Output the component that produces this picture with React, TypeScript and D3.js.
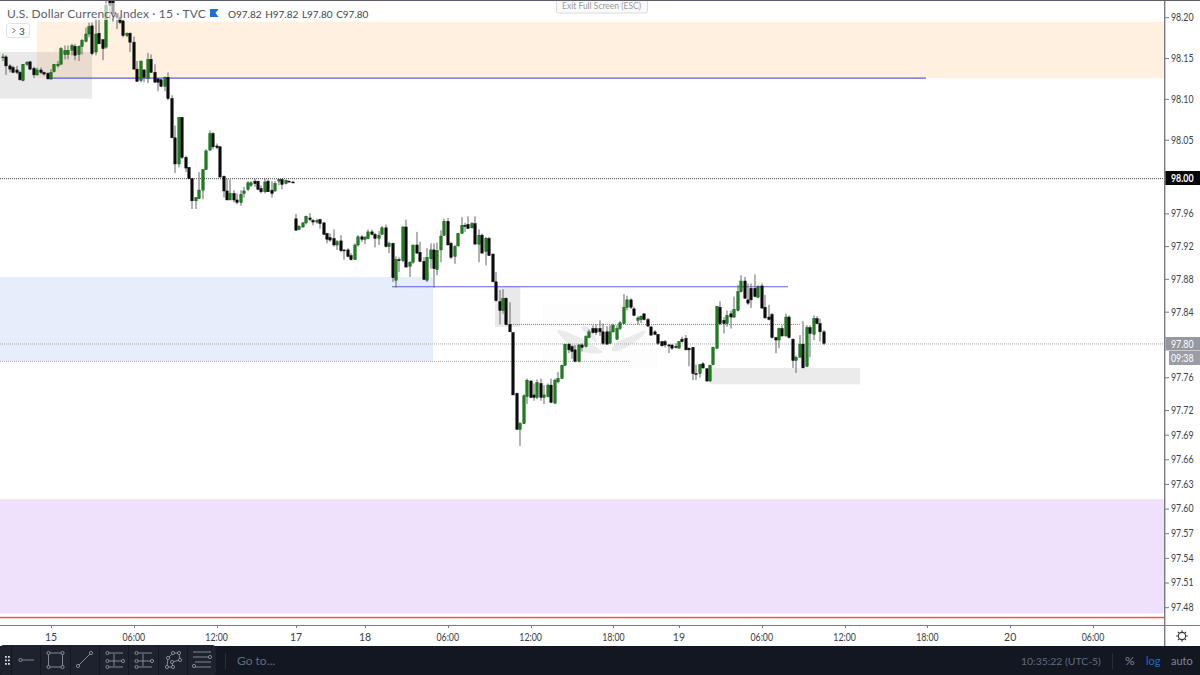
import React from "react";
import * as d3 from "d3";

const opens = [98.151,98.152,98.141,98.139,98.136,98.133,98.123,98.143,98.146,98.138,98.130,98.136,98.133,98.132,98.125,98.134,98.141,98.143,98.155,98.155,98.160,98.165,98.155,98.165,98.171,98.180,98.190,98.158,98.181,98.173,98.164,98.230,98.225,98.205,98.200,98.196,98.178,98.181,98.170,98.137,98.123,98.136,98.126,98.149,98.133,98.125,98.124,98.116,98.127,98.101,98.053,98.021,98.078,98.029,98.017,98.003,97.976,97.979,97.989,98.014,98.038,98.058,98.043,98.042,98.006,97.988,97.977,97.985,97.977,97.974,97.985,97.990,97.995,98.000,98.000,97.991,97.987,98.000,97.989,97.988,98.000,98.002,97.997,98.000,97.999,
97.954,97.941,97.944,97.949,97.955,97.952,97.950,97.953,97.949,97.936,97.931,97.930,97.922,97.927,97.916,97.916,97.909,97.904,97.922,97.932,97.929,97.930,97.938,97.935,97.930,97.935,97.943,97.920,97.924,97.879,97.904,97.903,97.944,97.896,97.901,97.922,97.913,97.902,97.879,97.905,97.916,97.892,97.916,97.934,97.951,97.924,97.908,97.921,97.936,97.946,97.947,97.943,97.948,97.923,97.934,97.914,97.930,97.911,97.877,97.853,97.842,97.857,97.825,97.815,97.741,97.697,97.704,
97.737,97.756,97.739,97.736,97.753,97.736,97.737,97.751,97.729,97.755,97.759,97.775,97.801,97.798,97.794,97.780,97.800,97.798,97.809,97.820,97.820,97.820,97.816,97.816,97.802,97.816,97.807,97.820,97.826,97.846,97.855,97.844,97.830,97.831,97.838,97.831,97.822,97.816,97.813,97.804,97.804,97.800,97.800,97.798,97.796,97.807,97.808,97.796,97.797,97.765,97.765,97.777,97.771,97.756,97.776,97.796,97.846,97.830,97.826,97.838,97.834,97.842,97.865,97.878,97.855,97.869,97.869,97.858,97.872,97.846,97.834,97.837,97.809,97.806,97.820,97.811,97.834,97.807,97.781,97.785,97.801,97.774,97.821,97.813,97.832,97.826,97.816];
const highs = [98.156,98.154,98.143,98.141,98.141,98.135,98.143,98.147,98.147,98.140,98.139,98.139,98.134,98.133,98.137,98.143,98.147,98.164,98.166,98.166,98.168,98.168,98.166,98.174,98.188,98.194,98.194,98.198,98.198,98.174,98.225,98.235,98.232,98.205,98.203,98.198,98.182,98.182,98.177,98.147,98.147,98.137,98.157,98.155,98.143,98.126,98.125,98.128,98.133,98.105,98.068,98.078,98.078,98.031,98.017,98.003,97.980,98.011,98.015,98.039,98.062,98.060,98.046,98.043,98.007,98.003,98.002,97.989,97.985,97.989,97.993,98.000,98.000,98.003,98.000,97.995,98.003,98.002,98.000,98.000,98.003,98.003,98.002,98.001,98.000,
97.960,97.946,97.950,97.958,97.961,97.954,97.954,97.954,97.950,97.937,97.936,97.941,97.928,97.934,97.916,97.918,97.912,97.924,97.934,97.934,97.933,97.941,97.941,97.937,97.939,97.945,97.947,97.926,97.925,97.908,97.907,97.945,97.953,97.902,97.922,97.938,97.926,97.907,97.918,97.924,97.924,97.925,97.940,97.954,97.955,97.926,97.922,97.937,97.956,97.949,97.957,97.950,97.957,97.941,97.936,97.932,97.932,97.911,97.889,97.867,97.868,97.858,97.852,97.815,97.742,97.706,97.740,
97.759,97.757,97.753,97.758,97.759,97.751,97.753,97.759,97.759,97.767,97.776,97.801,97.802,97.800,97.800,97.801,97.802,97.812,97.819,97.824,97.825,97.830,97.826,97.823,97.824,97.826,97.824,97.829,97.862,97.860,97.857,97.846,97.835,97.836,97.838,97.833,97.823,97.818,97.813,97.805,97.806,97.801,97.800,97.802,97.805,97.810,97.812,97.797,97.797,97.776,97.777,97.779,97.771,97.776,97.798,97.847,97.853,97.834,97.842,97.842,97.859,97.873,97.885,97.883,97.875,97.875,97.886,97.873,97.875,97.861,97.849,97.839,97.810,97.821,97.824,97.838,97.836,97.808,97.787,97.812,97.829,97.824,97.824,97.836,97.835,97.832,97.818];
const lows = [98.147,98.130,98.133,98.132,98.131,98.123,98.122,98.141,98.136,98.126,98.129,98.131,98.129,98.125,98.124,98.133,98.139,98.143,98.149,98.149,98.154,98.148,98.147,98.155,98.170,98.176,98.154,98.154,98.168,98.148,98.162,98.198,98.195,98.186,98.192,98.176,98.176,98.158,98.137,98.122,98.121,98.121,98.120,98.133,98.121,98.110,98.115,98.110,98.099,98.053,98.010,98.017,98.027,98.011,98.003,97.966,97.966,97.978,97.978,98.014,98.037,98.039,98.039,98.005,97.980,97.977,97.977,97.974,97.972,97.970,97.980,97.988,97.993,97.993,97.989,97.985,97.985,97.987,97.980,97.987,97.995,97.990,97.996,97.999,97.998,
97.940,97.940,97.943,97.947,97.951,97.946,97.948,97.942,97.934,97.924,97.926,97.920,97.916,97.913,97.904,97.907,97.903,97.904,97.920,97.926,97.923,97.929,97.934,97.919,97.922,97.934,97.919,97.912,97.877,97.870,97.889,97.901,97.895,97.883,97.899,97.912,97.901,97.879,97.877,97.893,97.870,97.885,97.901,97.933,97.922,97.905,97.899,97.920,97.936,97.938,97.942,97.942,97.923,97.901,97.912,97.897,97.909,97.877,97.853,97.825,97.838,97.824,97.816,97.739,97.697,97.677,97.704,
97.728,97.735,97.732,97.734,97.732,97.728,97.736,97.729,97.728,97.753,97.759,97.774,97.790,97.783,97.779,97.779,97.792,97.797,97.808,97.814,97.812,97.811,97.800,97.800,97.802,97.815,97.806,97.818,97.826,97.842,97.844,97.835,97.825,97.827,97.830,97.822,97.811,97.812,97.800,97.798,97.797,97.790,97.794,97.796,97.796,97.803,97.794,97.774,97.757,97.757,97.760,97.771,97.755,97.755,97.775,97.795,97.824,97.814,97.822,97.820,97.833,97.841,97.864,97.856,97.849,97.845,97.858,97.857,97.844,97.832,97.830,97.808,97.790,97.796,97.810,97.810,97.808,97.772,97.766,97.785,97.772,97.773,97.785,97.806,97.825,97.804,97.800];
const closes = [98.152,98.141,98.137,98.133,98.133,98.124,98.143,98.145,98.137,98.130,98.136,98.133,98.131,98.125,98.133,98.143,98.143,98.162,98.160,98.160,98.166,98.154,98.165,98.172,98.180,98.189,98.156,98.180,98.168,98.162,98.215,98.215,98.205,98.200,98.194,98.178,98.181,98.170,98.137,98.122,98.147,98.127,98.149,98.133,98.121,98.121,98.116,98.127,98.101,98.053,98.021,98.078,98.029,98.016,98.003,97.976,97.980,97.989,98.014,98.037,98.058,98.042,98.041,98.005,97.988,97.977,97.985,97.977,97.974,97.984,97.988,97.998,97.998,97.997,97.990,97.987,97.999,97.987,97.985,97.997,98.002,97.996,98.001,97.999,97.998,
97.940,97.945,97.949,97.957,97.953,97.950,97.952,97.948,97.935,97.929,97.928,97.922,97.926,97.915,97.915,97.908,97.904,97.922,97.932,97.929,97.931,97.938,97.935,97.930,97.934,97.943,97.920,97.924,97.882,97.904,97.903,97.944,97.895,97.901,97.922,97.912,97.902,97.880,97.907,97.916,97.893,97.915,97.933,97.951,97.922,97.907,97.920,97.936,97.946,97.945,97.942,97.948,97.923,97.934,97.912,97.930,97.909,97.877,97.854,97.842,97.857,97.825,97.816,97.739,97.697,97.704,97.738,
97.757,97.736,97.736,97.754,97.736,97.739,97.751,97.730,97.757,97.759,97.775,97.801,97.794,97.792,97.780,97.800,97.797,97.810,97.816,97.815,97.815,97.816,97.802,97.801,97.816,97.824,97.820,97.827,97.846,97.855,97.846,97.836,97.833,97.835,97.831,97.823,97.812,97.813,97.802,97.799,97.800,97.799,97.796,97.797,97.804,97.804,97.794,97.794,97.765,97.764,97.776,97.772,97.756,97.775,97.797,97.847,97.826,97.826,97.836,97.834,97.843,97.865,97.878,97.857,97.851,97.855,97.859,97.871,97.845,97.833,97.831,97.809,97.806,97.820,97.811,97.834,97.809,97.781,97.785,97.801,97.772,97.821,97.814,97.832,97.826,97.816,97.802];

const priceTicks = [98.2,98.15,98.1,98.05,97.96,97.92,97.88,97.84,97.76,97.72,97.69,97.66,97.63,97.6,97.57,97.54,97.51,97.48];
const timeTickIndex = [14,38,62,85,105,129,153,177,196,220,244,268,292,316];
const timeTickLabels = ["15","06:00","12:00","17","18","06:00","12:00","18:00","19","06:00","12:00","18:00","20","06:00"];
const zoneStart = [9.94,-1,-1,142.7,205,-1];
const zoneEnd = [400,25.9,124.7,150,248.5,400];
const zoneTop = [98.195,98.158,97.883,97.871,97.772,97.612];
const zoneBottom = [98.126,98.101,97.780,97.822,97.752,97.473];
const zoneColors = ["#fff0df","rgba(120,120,120,0.16)","#e6eefb","rgba(120,120,120,0.16)","#ebebeb","#efe0fb"];
const blueLineStart = [13.1,112.8];
const blueLineEnd = [267.6,227.6];
const blueLinePrice = [98.126,97.871];
const dotStart = [-1,-1,145.6,-1];
const dotEnd = [400,400,231,181.8];
const dotPrice = [98.003,97.8012,97.825,97.780];
const dotColor = ["#444","#aaa","#777","#aaa"];
const redLinePrice = 97.468;

const W = 1200, H = 675, PLOT_R = 1164, AXIS_Y = 625, BAR_Y = 646;
const y = d3.scaleLog().domain([97.48, 98.2]).range([607.7, 17.7]);
const x = d3.scaleLinear().domain([0, 316]).range([2.7, 1093]);
const FONT = "Lato, 'Noto Sans', sans-serif";
const ICON = "#8b93a5";

function Node({ cx, cy }: { cx: number; cy: number }) {
  return <circle cx={cx} cy={cy} r={1.6} fill="#1e222d" stroke={ICON} strokeWidth={0.9} />;
}
function Seg({ a, b, c, d }: { a: number; b: number; c: number; d: number }) {
  return <line x1={a} y1={b} x2={c} y2={d} stroke={ICON} strokeWidth={0.9} />;
}
function Num({ px, py, children, fill = "#3a3d45", bold = false, anchor = "start" }: { px: number; py: number; children: string; fill?: string; bold?: boolean; anchor?: string }) {
  return (
    <text x={px} y={py} fontFamily={FONT} fontSize={10.5} fontWeight={bold ? 700 : 400} fill={fill} textLength={22.5} lengthAdjust="spacingAndGlyphs" textAnchor={anchor}>
      {children}
    </text>
  );
}

export default function App() {
  const px = (i: number) => Math.max(0, Math.min(PLOT_R, x(i)));
  const wings = d3.line().curve(d3.curveBasisClosed);
  const wingShapes = [
    [[552,327],[570,333],[585,340],[600,350],[606,353],[592,354],[578,351],[566,342]],
    [[648,328],[632,336],[620,340],[612,346],[611,353],[622,350],[634,343],[644,335]],
    [[577,325],[590,326],[596,338],[598,345],[590,338]],
    [[615,325],[608,326],[604,338],[604,343],[610,336]],
  ].map((s) => wings(s as [number, number][]) as string);
  return (
    <svg width={W} height={H} viewBox={`0 0 ${W} ${H}`} style={{ position: "fixed", left: 0, top: 0, background: "#fff", display: "block" }}>
      {zoneStart.map((s, i) => (
        <rect key={i} x={px(s)} y={y(zoneTop[i])} width={px(zoneEnd[i]) - px(s)} height={y(zoneBottom[i]) - y(zoneTop[i])} fill={zoneColors[i]} />
      ))}
      <rect x={542} y={305} width={116} height={63} fill="#fdfdfd" />
      {wingShapes.map((d, i) => <path key={i} d={d} fill="#ebebeb" />)}
      {dotStart.map((s, i) => (
        <line key={i} x1={px(s)} x2={px(dotEnd[i])} y1={y(dotPrice[i])} y2={y(dotPrice[i])} stroke={dotColor[i]} strokeWidth={1} strokeDasharray="1 1" />
      ))}
      <line x1={0} x2={PLOT_R} y1={y(redLinePrice)} y2={y(redLinePrice)} stroke="#ffd9d6" strokeWidth={3} />
      <line x1={0} x2={PLOT_R} y1={y(redLinePrice)} y2={y(redLinePrice)} stroke="#ee4b45" strokeWidth={1} />
      {blueLinePrice.map((p, i) => (
        <line key={i} x1={px(blueLineStart[i])} x2={px(blueLineEnd[i])} y1={y(p)} y2={y(p)} stroke="#5a5fd6" strokeWidth={1.2} />
      ))}
      {opens.map((o, i) => {
        const c = closes[i];
        const cx = Math.round(x(i));
        const up = c > o;
        const t = y(Math.max(o, c));
        const b = y(Math.min(o, c));
        return (
          <g key={i}>
            <rect x={cx - 0.5} y={y(highs[i])} width={1} height={y(lows[i]) - y(highs[i])} fill="#666" />
            <rect x={cx - 1.2} y={t} width={2.4} height={Math.max(1, b - t)} fill={up ? "#128a16" : "#0c0c0c"} stroke={up ? "#1a4a1c" : "#0c0c0c"} strokeWidth={0.5} />
          </g>
        );
      })}

      {/* Legend overlay */}
      <rect x={3} y={3} width={362} height={17} fill="#fff" opacity={0.62} />
      <text x={7} y={17.5} fontFamily={FONT} fontSize={12} letterSpacing={0.15} fill="#5a5e68">U.S. Dollar Currency Index · 15 · TVC</text>
      <path d="M210 9 H218.5 L215.5 13 L218.5 17 H210 Z" fill="#1e6fd0" />
      <text x={228} y={17.5} fontFamily={FONT} fontSize={10} wordSpacing={1} fill="#444">O97.82 H97.82 L97.80 C97.80</text>
      <rect x={6.5} y={23.5} width={23} height={14} rx={2.5} fill="#fff" stroke="#e1e3e8" />
      <path d="M12.5 28 L15 30.5 L12.5 33" fill="none" stroke="#444" strokeWidth={0.9} />
      <text x={19} y={34.5} fontFamily={FONT} fontSize={10} fill="#444">3</text>
      <rect x={556.5} y={-3} width={91} height={16} rx={2} fill="#fafafa" stroke="#dcdcdc" />
      <text x={601.5} y={8.5} fontFamily={FONT} fontSize={8.5} fill="#9a9a9a" textAnchor="middle">Exit Full Screen (ESC)</text>

      {/* Price axis */}
      <rect x={PLOT_R + 1} y={0} width={35} height={AXIS_Y} fill="#fff" />
      <line x1={PLOT_R + 0.7} x2={PLOT_R + 0.7} y1={0} y2={BAR_Y} stroke="#787b86" strokeWidth={1.4} />
      {priceTicks.map((p) => (
        <g key={p}>
          <line x1={PLOT_R + 1} x2={PLOT_R + 5} y1={y(p)} y2={y(p)} stroke="#787b86" />
          <Num px={PLOT_R + 7} py={y(p) + 3.4}>{p.toFixed(2)}</Num>
        </g>
      ))}
      <rect x={PLOT_R + 1.4} y={171} width={35} height={14} fill="#050505" />
      <Num px={PLOT_R + 7} py={181.5} fill="#fff" bold>98.00</Num>
      <rect x={PLOT_R + 1.4} y={337} width={35} height={13.5} fill="#9598a1" />
      <Num px={PLOT_R + 7} py={347.5} fill="#fff">97.80</Num>
      <rect x={PLOT_R + 5} y={351} width={31} height={14} fill="#9a9da8" />
      <Num px={PLOT_R + 7} py={361.5} fill="#fff">09:38</Num>

      {/* Time axis */}
      <rect x={0} y={AXIS_Y} width={W} height={BAR_Y - AXIS_Y} fill="#fff" />
      <line x1={0} x2={W} y1={AXIS_Y + 0.5} y2={AXIS_Y + 0.5} stroke="#787b86" />
      <line x1={PLOT_R + 0.7} x2={PLOT_R + 0.7} y1={AXIS_Y} y2={BAR_Y} stroke="#787b86" strokeWidth={1.4} />
      {timeTickIndex.map((t, i) => (
        <g key={i}>
          <line x1={Math.round(x(t)) + 0.5} x2={Math.round(x(t)) + 0.5} y1={AXIS_Y} y2={AXIS_Y + 3} stroke="#787b86" />
          {timeTickLabels[i].length > 2 ? (
            <Num px={x(t)} py={641} anchor="middle">{timeTickLabels[i]}</Num>
          ) : (
            <text x={x(t)} y={641} fontFamily={FONT} fontSize={10.5} fill="#3a3d45" textAnchor="middle">{timeTickLabels[i]}</text>
          )}
        </g>
      ))}
      <g fill="none" stroke="#333" strokeWidth={1.1}>
        <circle cx={1182} cy={636} r={3.6} />
        {d3.range(8).map((k) => {
          const a = (k * Math.PI) / 4;
          return <line key={k} x1={1182 + 4 * Math.cos(a)} y1={636 + 4 * Math.sin(a)} x2={1182 + 5.8 * Math.cos(a)} y2={636 + 5.8 * Math.sin(a)} />;
        })}
      </g>
      <rect x={0} y={0} width={W} height={1} fill="#5a5d66" />

      {/* Bottom bar */}
      <rect x={0} y={BAR_Y} width={W} height={H - BAR_Y} fill="#131722" />
      <rect x={0} y={645} width={216} height={30} rx={4} fill="#1e222d" />
      {[11.5, 40.5, 70.5, 99.5, 128.5, 158.5, 187.5].map((d) => (
        <line key={d} x1={d} x2={d} y1={645} y2={675} stroke="#131722" />
      ))}
      {[5, 8].flatMap((a) => [656, 659.5, 663].map((b) => <rect key={`${a}-${b}`} x={a} y={b} width={1.8} height={1.8} fill="#d8dbe2" />))}
      <Seg a={22} b={660} c={34} d={660} /><Node cx={20.5} cy={660} />
      <rect x={48.5} y={653} width={14} height={14} fill="none" stroke={ICON} strokeWidth={0.9} />
      <Node cx={48.5} cy={653} /><Node cx={62.5} cy={653} /><Node cx={48.5} cy={667} /><Node cx={62.5} cy={667} />
      <Seg a={78} b={666} c={91} d={653} /><Node cx={78} cy={666} /><Node cx={91} cy={653} />
      {[106, 135].map((o) => (
        <g key={o}>
          <Seg a={o + 2} b={653} c={o + 17} d={653} />
          <Seg a={o + 2} b={661} c={o + 17} d={661} />
          <Seg a={o + 2} b={667} c={o + 17} d={667} />
          <Seg a={o + 8} b={654} c={o + 8} d={666} />
          <Node cx={o + 1.5} cy={653} /><Node cx={o + 1.5} cy={661} /><Node cx={o + 1.5} cy={667} /><Node cx={o + 17} cy={661} />
        </g>
      ))}
      <path d="M167 667 L168 658 L173 653 L179 653 L180 660 L172 662 L173 667 Z" fill="none" stroke={ICON} strokeWidth={0.9} />
      <Node cx={167} cy={667} /><Node cx={168} cy={658} /><Node cx={173} cy={653} /><Node cx={179} cy={653} /><Node cx={180} cy={660} /><Node cx={172} cy={662} /><Node cx={173} cy={667} />
      <Seg a={193} b={652} c={211} d={652} /><Seg a={193} b={657} c={209} d={657} /><Seg a={195} b={662} c={211} d={662} /><Seg a={195} b={667} c={211} d={667} />
      <Node cx={210} cy={657} /><Node cx={194} cy={666} />
      <line x1={225.5} x2={225.5} y1={653} y2={669} stroke="#2a2e39" />
      <text x={237} y={665} fontFamily={FONT} fontSize={12} fill="#626d82">Go to...</text>
      <text x={1021} y={665} fontFamily={FONT} fontSize={10.4} fill="#626d82">10:35:22 (UTC-5)</text>
      <line x1={1112.5} x2={1112.5} y1={653} y2={669} stroke="#2a2e39" />
      <text x={1125} y={665} fontFamily={FONT} fontSize={12} fill="#7d8699">%</text>
      <text x={1146} y={665} fontFamily={FONT} fontSize={11} fill="#1f6fc4">log</text>
      <text x={1171} y={665} fontFamily={FONT} fontSize={11} fill="#7d8699">auto</text>
    </svg>
  );
}
